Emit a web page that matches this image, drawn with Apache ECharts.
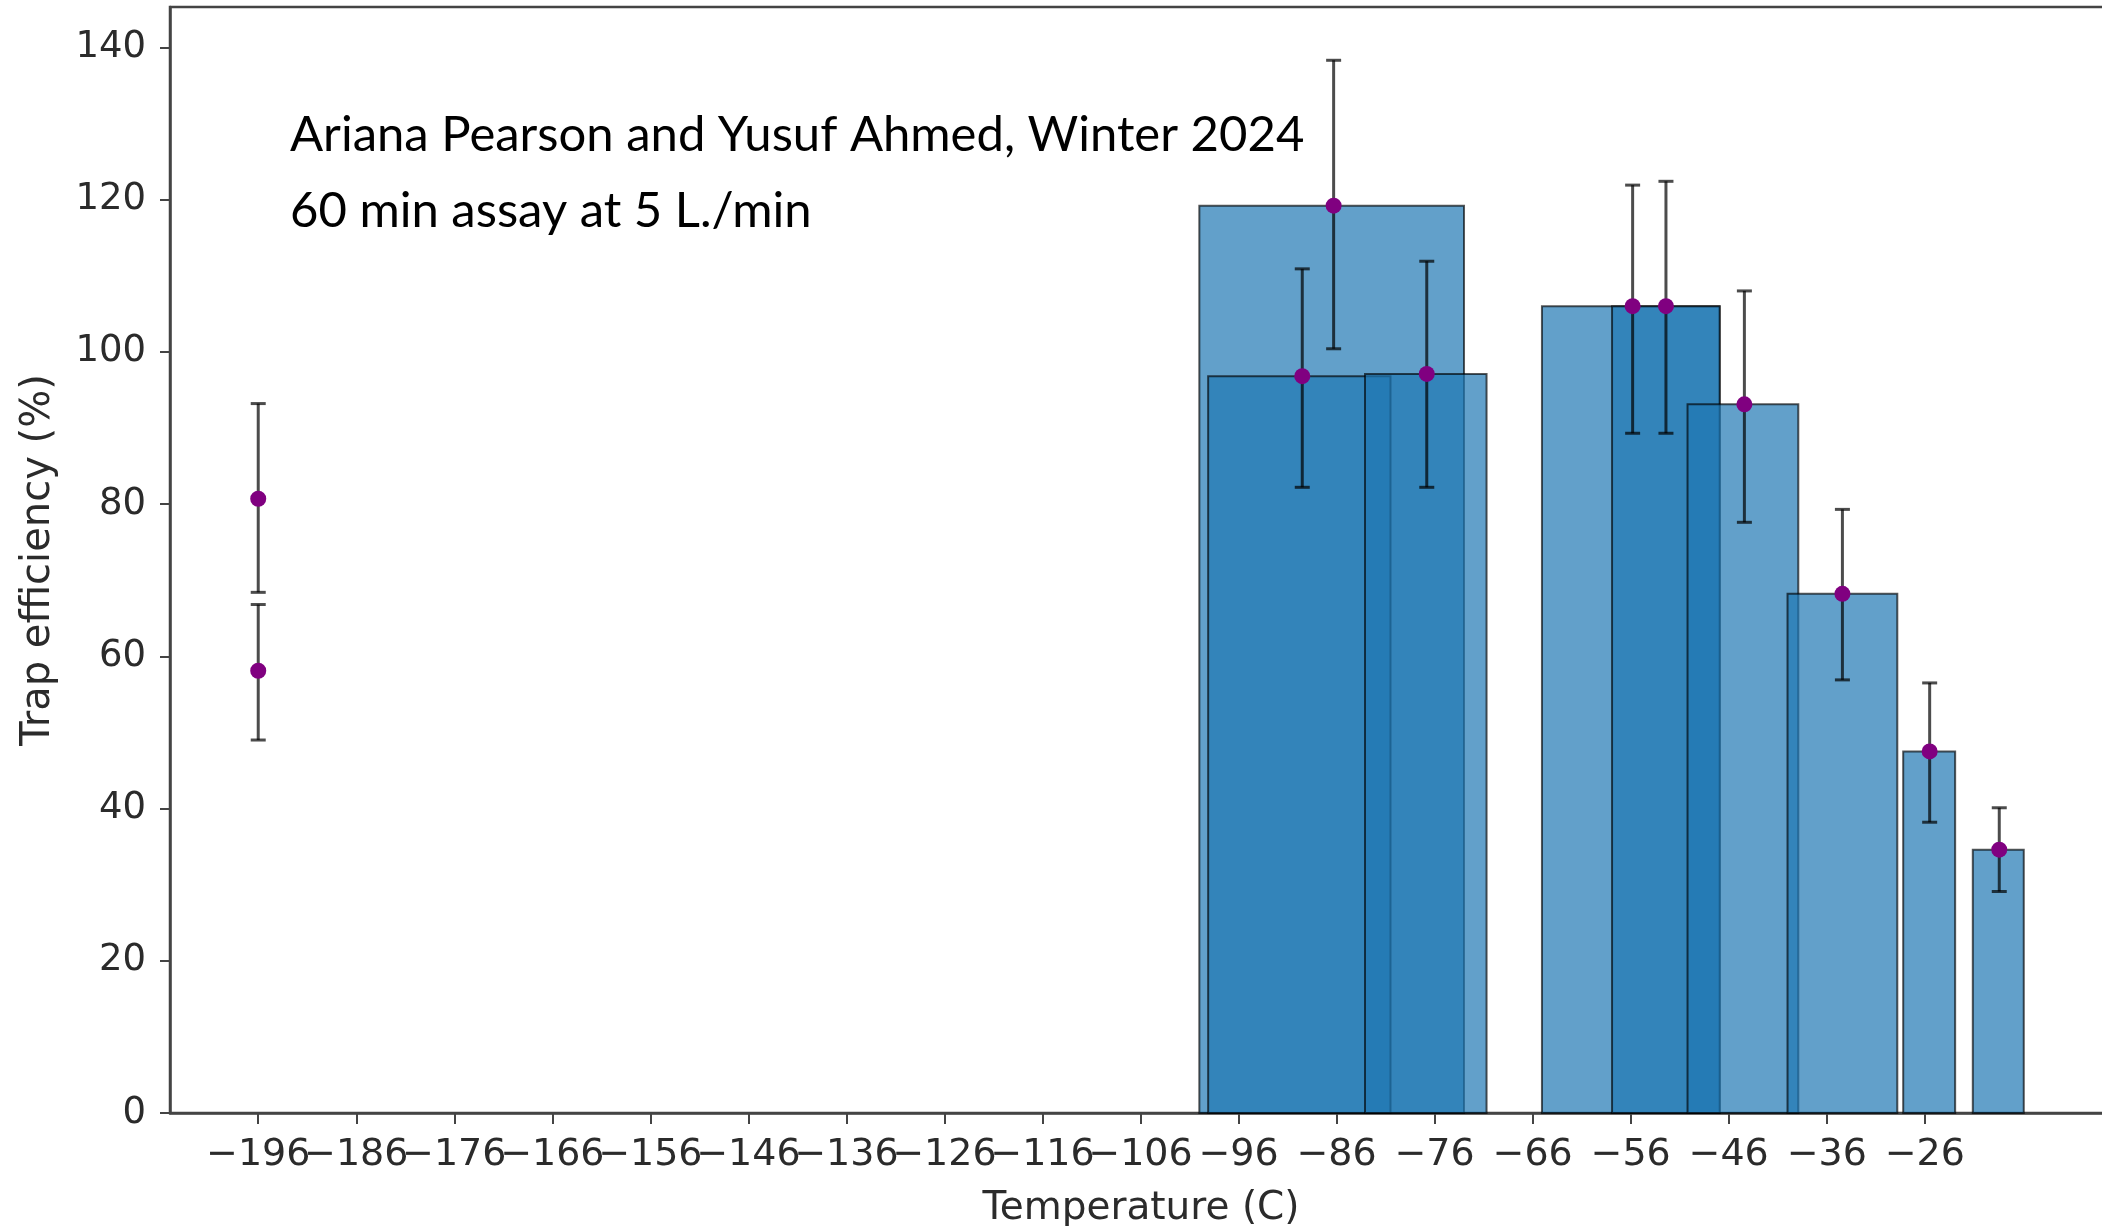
<!DOCTYPE html>
<html>
<head>
<meta charset="utf-8">
<script src="https://cdn.jsdelivr.net/npm/echarts@6/dist/echarts.min.js"></script>
<style>
html,body{margin:0;padding:0;background:#fff;}
#chart{width:2102px;height:1226px;}
</style>
</head>
<body>
<div id="chart"></div>
<script>
// ---- tick labels ----
const xTicks = [-196, -186, -176, -166, -156, -146, -136, -126, -116, -106, -96, -86, -76, -66, -56, -46, -36, -26];
const yTicks = [0, 20, 40, 60, 80, 100, 120, 140];

// ---- bars (temperature range centre, range width, efficiency %) ----
const barTemp  = [-86.5, -89.8, -76.9, -56.0, -52.4, -44.55, -34.4, -25.55, -18.5];
const barWidth = [27.0, 18.6, 12.4, 18.1, 11.0, 11.3, 11.2, 5.3, 5.2];
const barValue = [119.2, 96.8, 97.1, 106.0, 106.0, 93.1, 68.2, 47.5, 34.6];

// ---- measured points with error bars ----
const pointTemp  = [-196, -196, -89.5, -86.3, -76.8, -55.8, -52.4, -44.4, -34.4, -25.5, -18.4];
const pointValue = [80.7, 58.1, 96.8, 119.2, 97.1, 106.0, 106.0, 93.1, 68.2, 47.5, 34.6];
const errLow     = [68.4, 49.0, 82.2, 100.4, 82.2, 89.3, 89.3, 77.6, 56.9, 38.2, 29.1];
const errHigh    = [93.2, 66.8, 110.9, 138.3, 111.9, 121.9, 122.4, 108.0, 79.3, 56.5, 40.1];

// ---- text ----
const annotationLines = ['Ariana Pearson and Yusuf Ahmed, Winter 2024', '60 min assay at 5 L./min'];
const xName = 'Temperature (C)';
const yName = 'Trap efficiency (%)';

const X_MIN = -205, X_MAX = -6.9;
const Y_MIN = 0, Y_MAX = 145.3;

const barData = barTemp.map((t, i) => [t, barWidth[i], barValue[i]]);
const errData = pointTemp.map((t, i) => [t, errLow[i], errHigh[i]]);
const pointData = pointTemp.map((t, i) => [t, pointValue[i]]);

// an empty placeholder label before the first tick, so that ECharts' min-label
// overlap check does not drop the (overlapping, as in the original) labels
const xLabelValues = [X_MIN + 1].concat(xTicks);

const axisColor = '#444';
const textColor = '#2b2b2b';
const tickFont = 'DejaVu Sans';

const chart = echarts.init(document.getElementById('chart'), null, {renderer: 'canvas'});

function renderBar(params, api) {
  const c = api.value(0), w = api.value(1), v = api.value(2);
  const p1 = api.coord([c - w / 2, v]);
  const p2 = api.coord([c + w / 2, 0]);
  return {
    type: 'rect',
    shape: {x: p1[0], y: p1[1], width: p2[0] - p1[0], height: p2[1] - p1[1]},
    style: {fill: 'rgba(31,119,180,0.7)', stroke: 'rgba(0,0,0,0.65)', lineWidth: 2}
  };
}

function renderErr(params, api) {
  const t = api.value(0), lo = api.value(1), hi = api.value(2);
  const a = api.coord([t, lo]);
  const b = api.coord([t, hi]);
  const cap = 7.5;
  const st = {stroke: 'rgba(0,0,0,0.7)', lineWidth: 3};
  return {
    type: 'group',
    children: [
      {type: 'line', shape: {x1: a[0], y1: a[1], x2: b[0], y2: b[1]}, style: st},
      {type: 'line', shape: {x1: a[0] - cap, y1: a[1], x2: a[0] + cap, y2: a[1]}, style: st},
      {type: 'line', shape: {x1: b[0] - cap, y1: b[1], x2: b[0] + cap, y2: b[1]}, style: st}
    ]
  };
}

const option = {
  animation: false,
  backgroundColor: '#ffffff',
  grid: {
    left: 170, top: 7, width: 1942, height: 1106,
    containLabel: false, outerBoundsMode: 'none',
    show: true, borderColor: axisColor, borderWidth: 2.5, backgroundColor: 'transparent'
  },
  xAxis: {
    type: 'value', min: X_MIN, max: X_MAX,
    splitLine: {show: false},
    axisLine: {show: true, onZero: false, lineStyle: {color: axisColor, width: 2.5}},
    axisTick: {show: true, customValues: xTicks, length: 11, lineStyle: {color: axisColor, width: 2}},
    axisLabel: {
      customValues: xLabelValues,
      formatter: v => (xTicks.indexOf(v) >= 0 ? String(v).replace('-', '\u2212') : ''),
      fontFamily: tickFont, fontSize: 38, color: textColor, margin: 23,
      hideOverlap: false, showMinLabel: true, showMaxLabel: true
    },
    name: xName, nameLocation: 'middle', nameGap: 76,
    nameTextStyle: {fontFamily: tickFont, fontSize: 39, color: textColor}
  },
  yAxis: {
    type: 'value', min: Y_MIN, max: Y_MAX,
    splitLine: {show: false},
    axisLine: {show: true, lineStyle: {color: axisColor, width: 2.5}},
    axisTick: {show: true, customValues: yTicks, length: 10, lineStyle: {color: axisColor, width: 2}},
    axisLabel: {
      customValues: yTicks, showMinLabel: true, showMaxLabel: true,
      fontFamily: tickFont, fontSize: 37, color: textColor, margin: 24
    },
    name: yName, nameLocation: 'middle', nameGap: 111, nameRotate: 90,
    nameTextStyle: {fontFamily: tickFont, fontSize: 40, color: textColor}
  },
  graphic: annotationLines.map((txt, i) => ({
    type: 'text',
    left: 290,
    top: 111 + i * 76,
    style: {text: txt, font: '49px Lato', fill: '#000'}
  })),
  series: [
    {
      type: 'custom', name: 'bars', renderItem: renderBar, data: barData,
      encode: {x: 0, y: 2}, z: 2
    },
    {
      type: 'custom', name: 'errors', renderItem: renderErr, data: errData,
      encode: {x: 0, y: [1, 2]}, z: 3
    },
    {
      type: 'scatter', name: 'points', data: pointData,
      symbol: 'circle', symbolSize: 16,
      itemStyle: {color: '#800080', opacity: 1}, z: 4
    }
  ]
};

chart.setOption(option);
</script>
</body>
</html>
